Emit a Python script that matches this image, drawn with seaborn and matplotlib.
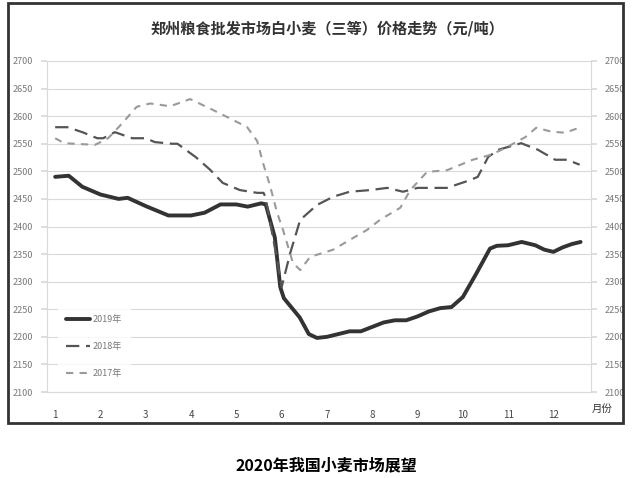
import numpy as np
import pandas as pd
import matplotlib
matplotlib.use('Agg')
import matplotlib.pyplot as plt
import seaborn as sns
from matplotlib.patches import Rectangle

# values (month position, price in yuan/ton)
months_2019 = [1.0, 1.3, 1.6, 2.0, 2.4, 2.6, 3.0, 3.5, 4.0, 4.3, 4.65, 5.0, 5.25, 5.55, 5.65,
               5.85, 5.97, 6.05, 6.2, 6.4, 6.6, 6.78, 7.0, 7.25, 7.5, 7.75, 8.0, 8.25, 8.5,
               8.75, 9.0, 9.25, 9.5, 9.75, 10.0, 10.3, 10.6, 10.75, 11.0, 11.3, 11.6, 11.8,
               12.0, 12.2, 12.4, 12.6]
price_2019 = [2490, 2492, 2472, 2458, 2450, 2452, 2437, 2420, 2420, 2425, 2440, 2440, 2436, 2442, 2440,
              2380, 2290, 2270, 2255, 2235, 2205, 2198, 2200, 2205, 2210, 2210, 2218, 2226, 2230,
              2230, 2237, 2246, 2252, 2254, 2272, 2315, 2360, 2365, 2366, 2372, 2366, 2358,
              2354, 2362, 2368, 2372]

months_2018 = [1.0, 1.27, 1.6, 1.93, 2.06, 2.32, 2.7, 3.0, 3.2, 3.58, 3.7, 4.1, 4.42, 4.7, 5.08,
               5.46, 5.6, 5.64, 5.9, 6.0, 6.19, 6.41, 6.78, 7.14, 7.5, 7.95, 8.33, 8.68, 9.0,
               9.65, 10.16, 10.33, 10.56, 10.78, 11.29, 11.66, 12.04, 12.3, 12.58]
price_2018 = [2580, 2580, 2571, 2560, 2560, 2571, 2560, 2560, 2553, 2550, 2550, 2526, 2503, 2479, 2466,
              2461, 2461, 2454, 2340, 2290, 2352, 2412, 2439, 2454, 2463, 2466, 2470, 2463, 2470,
              2470, 2484, 2490, 2526, 2539, 2551, 2539, 2521, 2521, 2512]

months_2017 = [1.0, 1.2, 1.88, 2.17, 2.48, 2.8, 3.1, 3.54, 3.98, 4.49, 4.93, 5.24, 5.46, 5.59,
               5.75, 5.9, 6.03, 6.25, 6.41, 6.63, 7.14, 7.51, 7.89, 8.17, 8.62, 8.84, 9.21,
               9.65, 10.22, 10.62, 10.93, 11.38, 11.62, 11.95, 12.26, 12.6]
price_2017 = [2560, 2551, 2548, 2560, 2587, 2617, 2623, 2618, 2631, 2611, 2593, 2580, 2555, 2515,
              2472, 2425, 2394, 2334, 2321, 2345, 2358, 2376, 2394, 2412, 2434, 2466, 2499,
              2502, 2521, 2530, 2542, 2562, 2579, 2572, 2570, 2580]

month_ticks = list(range(1, 13))
y_ticks = list(range(2100, 2701, 50))

sns.set_theme(style='white')
plt.rcParams['font.family'] = ['Noto Sans CJK SC', 'DejaVu Sans']

fig = plt.figure(figsize=(6.38, 4.78), dpi=100)
ax = fig.add_axes([47 / 638, 1 - 392 / 478, 544 / 638, 331 / 478])

df19 = pd.DataFrame({'month': months_2019, 'price': price_2019})
df18 = pd.DataFrame({'month': months_2018, 'price': price_2018})
df17 = pd.DataFrame({'month': months_2017, 'price': price_2017})

sns.lineplot(data=df19, x='month', y='price', ax=ax, color='#333333', lw=2.8, label='2019年')
sns.lineplot(data=df18, x='month', y='price', ax=ax, color='#555555', lw=1.6, label='2018年')
sns.lineplot(data=df17, x='month', y='price', ax=ax, color='#9a9a9a', lw=1.5, label='2017年')
ax.lines[1].set_dashes((6, 3))
ax.lines[2].set_dashes((3.5, 3))
for ln in ax.lines:
    ln.set_solid_joinstyle('round')
    ln.set_dash_joinstyle('round')

ax.set_xlim(0.82, 12.83)
ax.set_ylim(2100, 2700)
ax.set_yticks(y_ticks)
ax.set_xticks(month_ticks)
ax.set_xticklabels([str(m) for m in month_ticks])
ax.set_xlabel('')
ax.set_ylabel('')
ax.grid(axis='y', color='#d9d9d9', lw=0.8)
ax.grid(axis='x', visible=False)
ax.spines['top'].set_visible(False)
for side in ['left', 'right', 'bottom']:
    ax.spines[side].set_color('#d9d9d9')
    ax.spines[side].set_linewidth(0.8)
ax.tick_params(axis='y', labelsize=6.5, labelcolor='#777777', left=True, right=True,
               labelright=True, length=4, color='#d9d9d9', pad=6)
ax.tick_params(axis='x', labelsize=7, labelcolor='#444444', bottom=False, pad=7)

ax.text(12.85, 2070, '月份', fontsize=7.5, color='#333333', ha='left', va='center')

leg = ax.legend(loc='lower left', bbox_to_anchor=(0.012, 0.005), frameon=True, fontsize=6.5,
                handlelength=2.6, labelspacing=1.95, borderpad=0.9, handletextpad=0.3)
leg.get_frame().set_facecolor('white')
leg.get_frame().set_edgecolor('white')
for t in leg.get_texts():
    t.set_color('#777777')

fig.text(327 / 638, 1 - 28 / 478, '郑州粮食批发市场白小麦（三等）价格走势（元/吨）',
         ha='center', va='center', fontsize=10.9, color='#333333', fontweight='bold')
fig.text(326 / 638, 1 - 465 / 478, '2020年我国小麦市场展望',
         ha='center', va='center', fontsize=11.5, color='black', fontweight='bold')

fig.patches.append(Rectangle((8 / 638, 1 - 423 / 478), 615 / 638, 420 / 478,
                             transform=fig.transFigure, fill=False,
                             edgecolor='#333333', lw=2))

fig.savefig('out.png', dpi=100)
